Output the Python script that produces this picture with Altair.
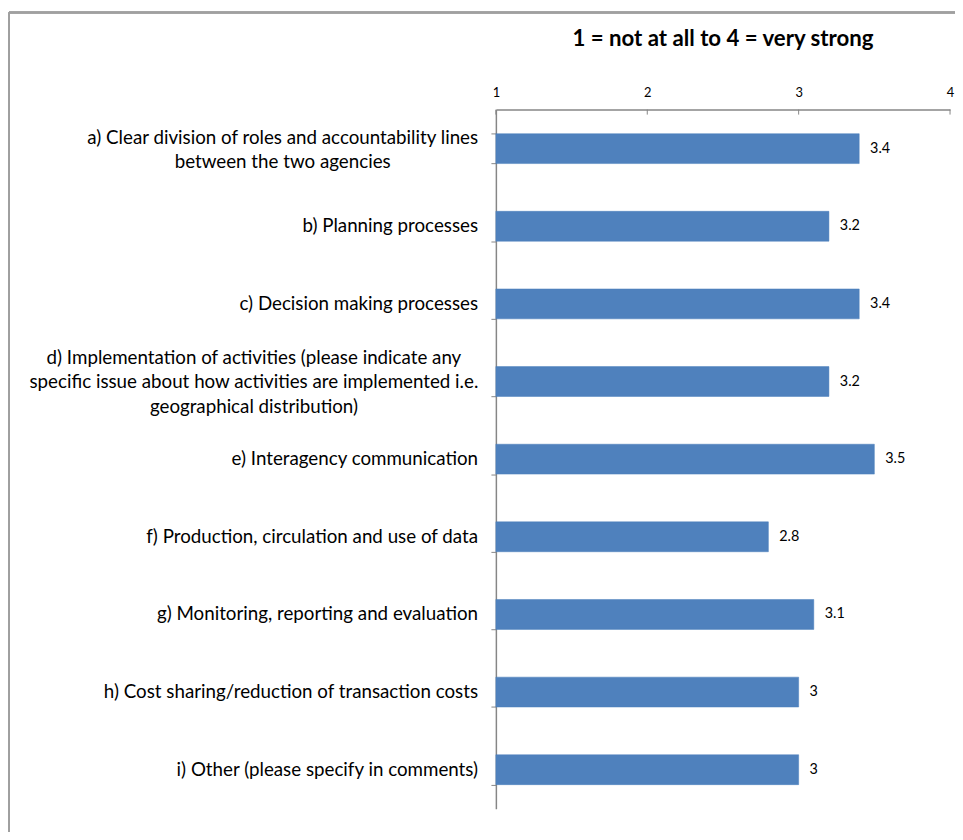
import altair as alt
import pandas as pd

categories = [
    "a) Clear division of roles and accountability lines|between the two agencies",
    "b) Planning processes",
    "c) Decision making processes",
    "d) Implementation of activities (please indicate any|specific issue about how activities are implemented i.e.|geographical distribution)",
    "e) Interagency communication",
    "f) Production,  circulation and use of data",
    "g) Monitoring, reporting and evaluation",
    "h) Cost sharing/reduction of transaction costs",
    "i) Other (please specify in comments)",
]
values = [3.4, 3.2, 3.4, 3.2, 3.5, 2.8, 3.1, 3.0, 3.0]
labels = ["3.4", "3.2", "3.4", "3.2", "3.5", "2.8", "3.1", "3", "3"]
tick_values = [1, 2, 3, 4]

df = pd.DataFrame({"cat": categories, "value": values, "label": labels})
ticks_df = pd.DataFrame({"t": tick_values})

FONT = "Lato"
AX = "#868686"
LFS = 18.9

xscale = alt.Scale(domain=[1, 4], nice=False, zero=False)
yscale = alt.Scale(domain=categories, paddingInner=0.615, paddingOuter=0.31)
Y = alt.Y("cat:N", scale=yscale, sort=categories)

bars = alt.Chart(df).mark_bar(color="#4F81BD", stroke="#4A7EBB", strokeWidth=0.5).encode(
    x=alt.X("value:Q", scale=xscale, title=None,
            axis=alt.Axis(orient="top", values=tick_values, format="d",
                          ticks=False, labelPadding=10, labelFontSize=13,
                          labelColor="#000000", domainColor=AX, domainWidth=1.5,
                          grid=False, labelFont=FONT, labelFlush=False)),
    x2=alt.datum(1),
    y=alt.Y("cat:N", scale=yscale, sort=categories, title=None,
            axis=alt.Axis(labels=False, tickSize=5, tickColor=AX,
                          tickBand="extent", domainColor=AX, domainWidth=1.5)),
)

values_text = alt.Chart(df).mark_text(align="left", baseline="middle", dx=11, fontSize=14.5,
                                      font=FONT, color="#000000").encode(
    x=alt.X("value:Q", scale=xscale),
    y=Y,
    text="label:N",
)

lab_base = alt.Chart(df).transform_calculate(
    lines="split(datum.cat, '|')", n="length(split(datum.cat, '|'))"
)
lab1 = lab_base.transform_filter("datum.n == 1").mark_text(
    align="right", baseline="middle", font=FONT, fontSize=LFS, color="#000000"
).encode(x=alt.value(-18), y=Y, text="cat:N")
lab2 = lab_base.transform_filter("datum.n == 2").mark_text(
    align="center", baseline="middle", font=FONT, fontSize=LFS, color="#000000",
    lineHeight=25, dy=-11
).encode(x=alt.value(-215), y=Y, text="lines:N")
lab3 = lab_base.transform_filter("datum.n == 3").mark_text(
    align="center", baseline="middle", font=FONT, fontSize=LFS, color="#000000",
    lineHeight=25, dy=-24
).encode(x=alt.value(-244), y=Y, text="lines:N")

xticks = alt.Chart(ticks_df).mark_rule(color=AX, strokeWidth=1).encode(
    x=alt.X("t:Q", scale=xscale),
    y=alt.value(0),
    y2=alt.value(5),
)

frame_top = alt.Chart(ticks_df).mark_rule(color="#A0A0A0", strokeWidth=2).encode(
    x=alt.value(-491), x2=alt.value(470), y=alt.value(-98)
)
frame_left = alt.Chart(ticks_df).mark_rule(color="#A0A0A0", strokeWidth=2).encode(
    x=alt.value(-491), y=alt.value(-98), y2=alt.value(740)
)

chart = alt.layer(frame_top, frame_left, bars, values_text, lab1, lab2, lab3, xticks).properties(
    width=458,
    height=705,
    title=alt.TitleParams("1 = not at all to 4 = very strong", fontSize=22.4, font=FONT,
                          fontWeight="bold", color="#000000", anchor="middle", offset=-39),
    autosize=alt.AutoSizeParams(type="none"),
    padding={"left": 492, "top": 99, "right": 5, "bottom": 20},
).configure_view(stroke=None)

chart.save("out.html", embed_options={"renderer": "svg", "actions": False})
